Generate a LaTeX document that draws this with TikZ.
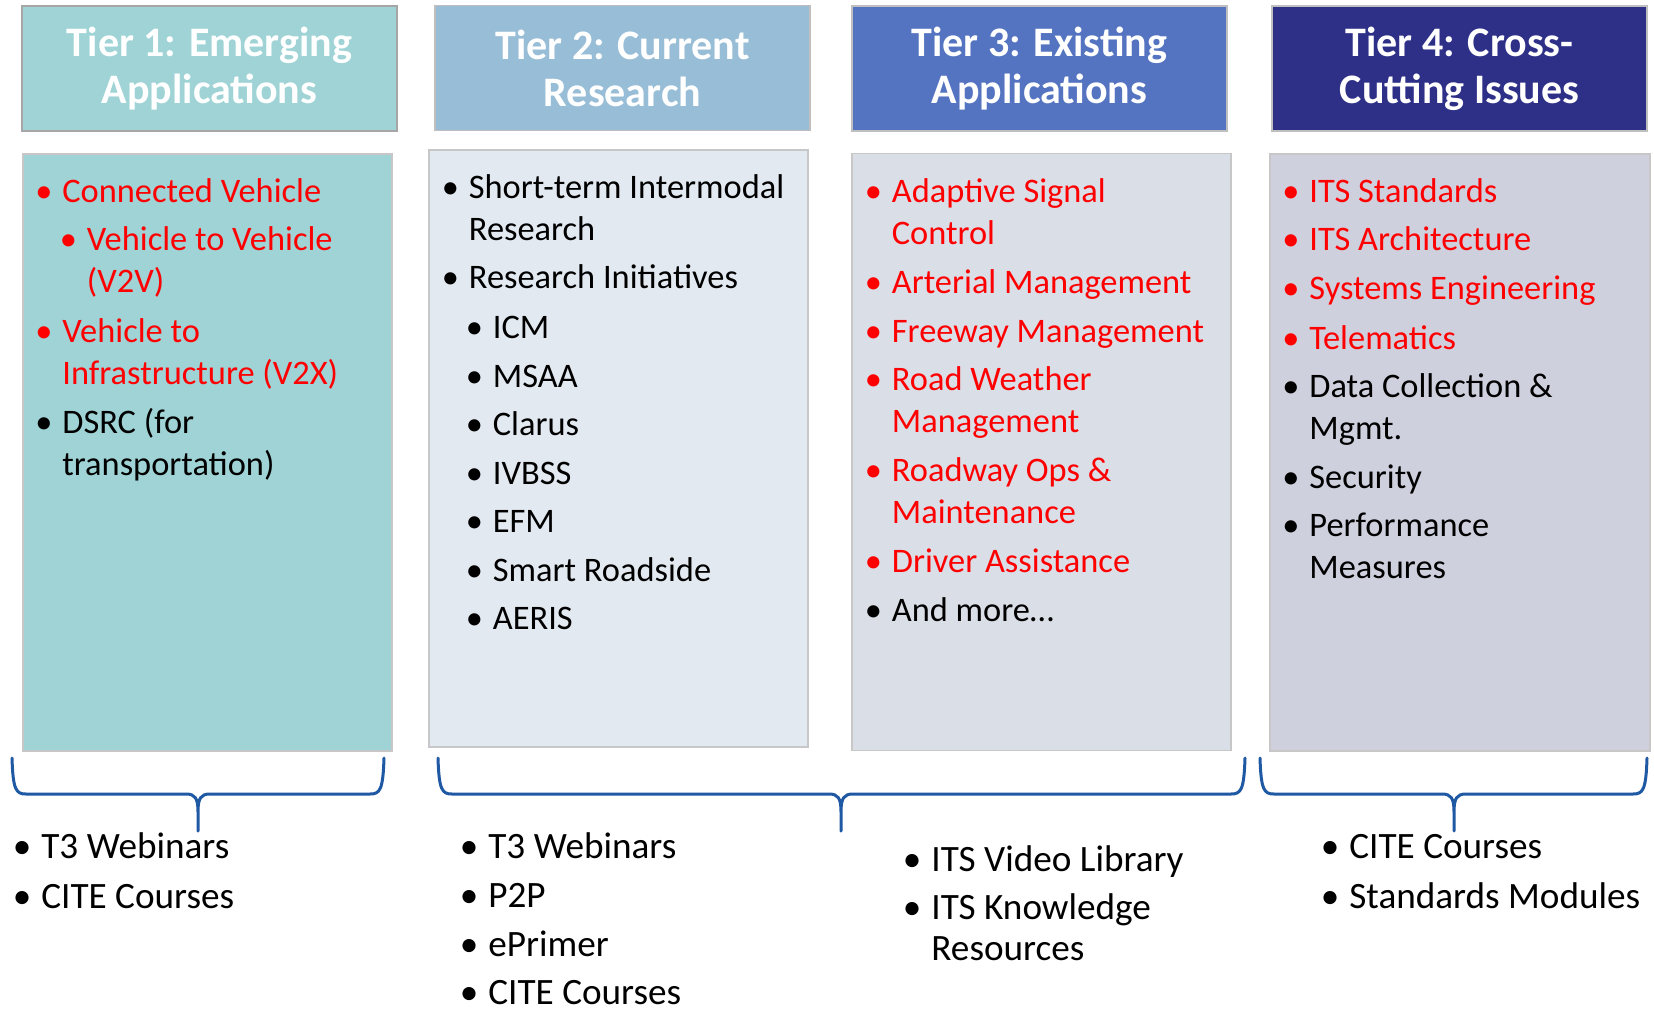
\documentclass[tikz,border=0pt]{standalone}
\usepackage{fontspec}
\setmainfont{Carlito}
\usetikzlibrary{positioning}
\definecolor{tierone}{HTML}{9FD3D6}
\definecolor{tiertwo}{HTML}{98BDD7}
\definecolor{tierthree}{HTML}{5474C1}
\definecolor{tierfour}{HTML}{2E3088}
\definecolor{paletwo}{HTML}{E2E9F0}
\definecolor{palethree}{HTML}{DADEE7}
\definecolor{palefour}{HTML}{CFD0DD}
\definecolor{braceblue}{HTML}{1F58A3}
\newcommand{\bul}{\llap{•\hspace{5pt}}}

\begin{document}
\begin{tikzpicture}[x=0.5pt, y=-0.5pt,
		head/.style={draw=black!25, line width=0.6pt, minimum width=187.5pt, minimum height=62.5pt, align=center, text=white, font=\bfseries\fontsize{21}{23.5}\selectfont},
		panel/.style={draw=black!22, line width=0.6pt, minimum height=298.5pt},
		entry/.style={anchor=base west, align=left, inner sep=0pt, yshift=-0.8pt, font=\fontsize{17.2}{21}\selectfont},
		hot/.style={entry, text=red},
		res/.style={entry, font=\fontsize{18.6}{20.5}\selectfont},
		brace/.style={draw=braceblue, line width=1.5pt, line cap=round}
		]
	\useasboundingbox (0,0) rectangle (1654,1008);

	\node[head, fill=tierone, draw=black!35, line width=1pt] (H1) at (209.5,68.5) {Tier 1: Emerging\\Applications};
	\node[head, fill=tiertwo] (H2) at (622.5,68) {Tier 2: Current\\Research};
	\node[head, fill=tierthree] (H3) at (1039.5,68.5) {Tier 3: Existing\\Applications};
	\node[head, fill=tierfour] (H4) at (1459.5,68.5) {Tier 4: Cross-\\Cutting Issues};

	\node[panel, fill=tierone, minimum width=184.5pt] (B1) at (207.5,452.5) {};
	\node[panel, fill=paletwo, minimum width=189.5pt] (B2) at (618.5,448.5) {};
	\node[panel, fill=palethree, minimum width=189.5pt] (B3) at (1041.5,452) {};
	\node[panel, fill=palefour, minimum width=190pt] (B4) at (1460,452.5) {};

	% multi-line entries sit on the baseline of their last line
	\node[hot] (cv) at (62,201) {\bul Connected Vehicle};
	\node[hot] (vv) at (86.5,291) {\bul Vehicle to Vehicle\\(V2V)};
	\node[hot] (vx) at (62,383) {\bul Vehicle to\\Infrastructure (V2X)};
	\node[entry] (dsrc) at (62,474) {\bul DSRC (for\\transportation)};

	\node[entry] (sti) at (468.5,239) {\bul Short-term Intermodal\\Research};
	\node[entry] (ri) at (468.5,287) {\bul Research Initiatives};
	\node[entry] (icm) at (492.5,337) {\bul ICM};
	\node[entry] (msaa) at (492.5,385.5) {\bul MSAA};
	\node[entry] (clarus) at (492.5,434) {\bul Clarus};
	\node[entry] (ivbss) at (492.5,482.5) {\bul IVBSS};
	\node[entry] (efm) at (492.5,531) {\bul EFM};
	\node[entry] (smart) at (492.5,579.5) {\bul Smart Roadside};
	\node[entry] (aeris) at (492.5,628) {\bul AERIS};

	\node[hot] (asc) at (891.5,243) {\bul Adaptive Signal\\Control};
	\node[hot] (am) at (891.5,292) {\bul Arterial Management};
	\node[hot] (fm) at (891.5,341) {\bul Freeway Management};
	\node[hot] (rwm) at (891.5,431) {\bul Road Weather\\Management};
	\node[hot] (rom) at (891.5,522) {\bul Roadway Ops \&\\Maintenance};
	\node[hot] (da) at (891.5,571) {\bul Driver Assistance};
	\node[entry] (more) at (891.5,620) {\bul And more…};

	\node[hot] (std) at (1309,201) {\bul ITS Standards};
	\node[hot] (arch) at (1309,249) {\bul ITS Architecture};
	\node[hot] (se) at (1309,298) {\bul Systems Engineering};
	\node[hot] (tel) at (1309,347.5) {\bul Telematics};
	\node[entry] (dcm) at (1309,438) {\bul Data Collection \&\\Mgmt.};
	\node[entry] (sec) at (1309,487) {\bul Security};
	\node[entry] (pm) at (1309,577) {\bul Performance\\Measures};

	\draw[brace] (12,758) .. controls (13,790) and (16,794) .. (26,794) -- (186,794) .. controls (195,794) and (198,798) .. (198,812) -- (198,831)
		(198,812) .. controls (198,798) and (201,794) .. (210,794) -- (370,794) .. controls (380,794) and (383,790) .. (384,758);
	\draw[brace] (438,758) .. controls (439,790) and (442,794) .. (452,794) -- (829,794) .. controls (838,794) and (841,798) .. (841,812) -- (841,831)
		(841,812) .. controls (841,798) and (844,794) .. (853,794) -- (1231,794) .. controls (1241,794) and (1244,790) .. (1245,758);
	\draw[brace] (1260,758) .. controls (1261,790) and (1264,794) .. (1274,794) -- (1442,794) .. controls (1451,794) and (1454,798) .. (1454,812) -- (1454,831)
		(1454,812) .. controls (1454,798) and (1457,794) .. (1466,794) -- (1633,794) .. controls (1643,794) and (1646,790) .. (1647,758);

	\node[res] (web1) at (41,857) {\bul T3 Webinars};
	\node[res] (cite1) at (41,907) {\bul CITE Courses};

	\node[res] (web2) at (488,857) {\bul T3 Webinars};
	\node[res] (p2p) at (488,906) {\bul P2P};
	\node[res] (epr) at (488,955) {\bul ePrimer};
	\node[res] (cite2) at (488,1003) {\bul CITE Courses};

	\node[res] (vid) at (931,870) {\bul ITS Video Library};
	\node[res] (krs) at (931,959) {\bul ITS Knowledge\\Resources};

	\node[res] (cite4) at (1349,857) {\bul CITE Courses};
	\node[res] (mods) at (1349,907) {\bul Standards Modules};

\end{tikzpicture}
\end{document}
